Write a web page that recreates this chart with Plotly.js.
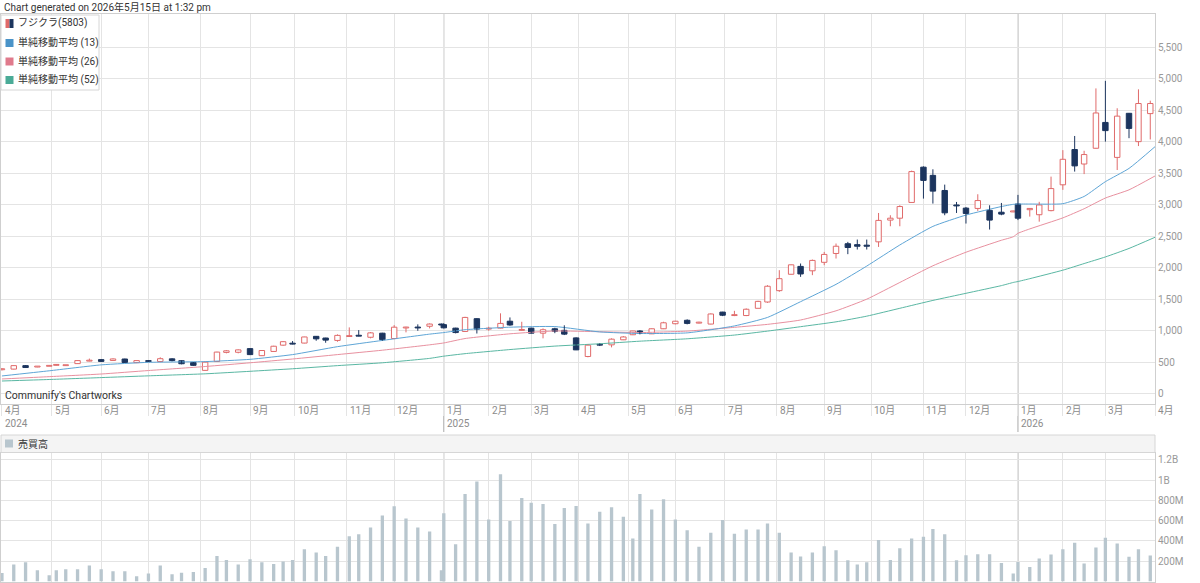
<!DOCTYPE html>
<html>
<head>
<meta charset="utf-8">
<script src="https://cdn.plot.ly/plotly-3.0.1.min.js"></script>
<style>
html,body{margin:0;padding:0;background:#fff;}
#chart{width:1200px;height:583px;}
</style>
</head>
<body>
<div id="chart"></div>
<script>
// ---------------- DATA ----------------
const holidays = ['2024-04-29','2024-05-03','2024-05-06','2024-07-15','2024-08-12','2024-09-16','2024-09-23','2024-10-14','2024-11-04','2024-12-31',
'2025-01-01','2025-01-02','2025-01-03','2025-01-13','2025-02-11','2025-02-24','2025-03-20','2025-04-29','2025-05-05','2025-05-06','2025-07-21','2025-08-11','2025-09-15','2025-09-23','2025-10-13','2025-11-03','2025-11-24','2025-12-31',
'2026-01-01','2026-01-02','2026-01-12','2026-02-11','2026-02-23','2026-03-20'];

const dates = [
'2024-04-01','2024-04-08','2024-04-15','2024-04-22','2024-04-30','2024-05-07','2024-05-13','2024-05-20','2024-05-27',
'2024-06-03','2024-06-10','2024-06-17','2024-06-24','2024-07-01','2024-07-08','2024-07-16','2024-07-22','2024-07-29',
'2024-08-05','2024-08-13','2024-08-19','2024-08-26','2024-09-02','2024-09-09','2024-09-17','2024-09-24','2024-09-30',
'2024-10-07','2024-10-15','2024-10-21','2024-10-28','2024-11-05','2024-11-11','2024-11-18','2024-11-25',
'2024-12-02','2024-12-09','2024-12-16','2024-12-23','2024-12-30',
'2025-01-06','2025-01-14','2025-01-20','2025-01-27','2025-02-03','2025-02-10','2025-02-17','2025-02-25',
'2025-03-03','2025-03-10','2025-03-17','2025-03-24','2025-03-31','2025-04-07','2025-04-14','2025-04-21','2025-04-28',
'2025-05-07','2025-05-12','2025-05-19','2025-05-26','2025-06-02','2025-06-09','2025-06-16','2025-06-23','2025-06-30',
'2025-07-07','2025-07-14','2025-07-22','2025-07-28','2025-08-04','2025-08-12','2025-08-18','2025-08-25',
'2025-09-01','2025-09-08','2025-09-16','2025-09-22','2025-09-29','2025-10-06','2025-10-14','2025-10-20','2025-10-27',
'2025-11-04','2025-11-10','2025-11-17','2025-11-25','2025-12-01','2025-12-08','2025-12-15','2025-12-22','2025-12-29',
'2026-01-05','2026-01-13','2026-01-19','2026-01-26','2026-02-02','2026-02-09','2026-02-16','2026-02-24',
'2026-03-02','2026-03-09','2026-03-16','2026-03-23','2026-03-30'];

const openP = [385,395,450,428,440,455,450,482,522,545,532,555,498,530,515,558,528,500,375,515,660,662,720,608,675,775,800,808,915,888,850,912,928,900,965,880,1048,1060,1075,1110,
1100,1045,992,1195,1030,1045,1155,1010,1045,965,1035,1010,890,595,785,780,860,940,1000,955,1035,1115,1170,1125,1110,1300,1245,1245,1360,1460,1640,1900,2025,1955,2090,2230,2385,2370,2362,2415,2760,2790,3040,3600,3470,3230,3000,2950,2945,2915,2885,2890,
3015,2925,2845,2910,3320,3880,3650,3900,4310,3755,4455,4005,4450];
const highP = [410,455,460,442,450,475,466,535,562,552,566,560,534,539,582,566,534,507,510,670,697,708,724,697,765,840,840,908,919,892,946,1057,1014,983,971,1093,1067,1105,1120,1118,
1120,1051,1225,1200,1067,1280,1215,1146,1051,1041,1051,1090,898,788,803,883,919,1003,1014,1041,1146,1162,1184,1146,1279,1304,1320,1358,1479,1727,1965,2055,2071,2134,2255,2388,2414,2451,2451,2873,2837,2995,3545,3613,3566,3323,3048,2968,3170,2995,3032,2910,
3160,2950,3050,3450,3870,4095,3860,4850,4970,4535,4460,4835,4655];
const lowP = [375,390,415,425,438,450,446,478,518,508,528,496,491,507,507,518,471,448,370,512,645,645,618,602,670,765,788,803,845,813,829,908,915,883,845,872,978,1003,1041,1090,
1040,962,987,960,1003,1041,1082,1003,962,883,965,935,697,582,761,740,856,935,946,951,1030,1105,1105,1120,1105,1236,1236,1236,1358,1447,1621,1897,1859,1886,2044,2150,2219,2293,2293,2334,2662,2662,3038,3101,3022,2837,2873,2705,2905,2610,2837,2885,
2760,2815,2735,2900,3240,3530,3490,3895,4005,3555,4060,3935,4040];
const closeP = [400,450,420,438,446,462,460,530,530,517,556,500,530,515,560,530,480,455,505,665,685,700,625,690,758,830,792,905,875,855,930,925,918,970,862,1060,1060,1048,1110,1095,
1050,975,1215,1030,1040,1120,1095,1020,965,1020,995,950,700,775,775,870,905,1000,960,1035,1130,1155,1120,1140,1270,1250,1255,1345,1470,1710,1830,2050,1905,2120,2215,2345,2325,2345,2345,2755,2790,2975,3530,3390,3220,2875,2985,2865,3070,2760,2855,2905,
2790,2945,3000,3260,3725,3620,3800,4460,4180,4410,4215,4610,4610];
// weekly volume, in millions of shares
const volumeM = [84,167,190,111,61,111,120,120,157,120,101,101,51,78,157,71,87,94,134,252,213,167,219,190,173,196,213,318,285,252,342,447,467,533,652,741,622,533,493,111,
672,368,863,985,612,1058,596,823,777,764,566,724,744,572,688,731,639,424,863,711,810,612,506,342,480,606,470,513,513,573,480,286,246,286,348,309,210,167,190,408,213,329,424,441,517,467,210,259,269,269,183,78,
193,144,226,266,319,381,177,335,431,374,243,319,256];

// moving averages
const maDates = ['2024-04-01','2024-04-30','2024-06-03','2024-07-01','2024-08-05','2024-09-02','2024-09-30','2024-10-28','2024-11-25','2024-12-23',
'2025-01-06','2025-01-20','2025-02-17','2025-03-17','2025-04-14','2025-05-12','2025-06-09','2025-07-07','2025-07-28','2025-08-18','2025-09-08','2025-09-29','2025-10-20','2025-11-10','2025-12-01','2025-12-22','2025-12-29',
'2026-01-05','2026-01-13','2026-02-02','2026-02-16','2026-03-02','2026-03-16','2026-04-01'];
const ma13 = [286,368,462,502,514,550,625,751,850,950,975,1020,1060,1070,985,960,970,1080,1215,1465,1740,2030,2365,2660,2840,2975,3010,3015,3015,3020,3135,3370,3580,3925];
const ma26 = [238,275,317,372,436,495,555,625,695,780,810,880,955,1000,988,975,998,1058,1105,1174,1320,1505,1770,2035,2250,2440,2495,2550,2620,2795,2940,3110,3240,3460];
const ma52 = [206,230,260,288,320,360,400,450,495,565,600,640,705,760,797,838,876,935,998,1068,1145,1235,1360,1485,1598,1720,1770,1785,1830,1965,2070,2175,2310,2487];

const monthTickDates = ['2024-04-01','2024-05-01','2024-06-03','2024-07-01','2024-08-01','2024-09-02','2024-10-01','2024-11-01','2024-12-02',
'2025-01-06','2025-02-03','2025-03-03','2025-04-01','2025-05-01','2025-06-02','2025-07-01','2025-08-01','2025-09-01','2025-10-01','2025-11-04','2025-12-01',
'2026-01-05','2026-02-02','2026-03-02','2026-04-01'];
const monthTickLabels = ['4月','5月','6月','7月','8月','9月','10月','11月','12月','1月','2月','3月','4月','5月','6月','7月','8月','9月','10月','11月','12月','1月','2月','3月','4月'];
const yearLabelDates = ['2024-04-01','2025-01-06','2026-01-05'];
const yearLabels = ['2024','2025','2026'];
const yearLineDates = ['2025-01-06','2026-01-05'];

const priceTicks = [0,500,1000,1500,2000,2500,3000,3500,4000,4500,5000,5500];
const volTickVals = [200,400,600,800,1000,1200];
const volTickText = ['200M','400M','600M','800M','1B','1.2B'];

const titleText = 'Chart generated on 2026年5月15日 at 1:32 pm';
const creditText = "Communify's Chartworks";
const legendNames = ['フジクラ(5803)','単純移動平均 (13)','単純移動平均 (26)','単純移動平均 (52)'];
const volumeName = '売買高';

// ---------------- TRADING-DAY AXIS ----------------
const hol = new Set(holidays);
const idxMap = {};
(function(){
  let t = Date.UTC(2024,3,1), k = 0; const end = Date.UTC(2026,4,1);
  while (t < end) {
    const d = new Date(t); const wd = d.getUTCDay(); const s = d.toISOString().slice(0,10);
    if (wd !== 0 && wd !== 6 && !hol.has(s)) { idxMap[s] = k; k++; }
    t += 86400000;
  }
})();
const X = s => idxMap[s];

// ---------------- STYLE ----------------
const FONT = 'Roboto, "Noto Sans CJK JP", sans-serif';
const UP = '#e06a6a', DOWN = '#1c355e';
const C13 = '#5ea5d6', C26 = '#e8909f', C52 = '#5ab7a3';
const L13 = '#4a93c8', L26 = '#e07a8c', L52 = '#4aab97';
const VOLC = '#b8c6ce';
const GRID = '#e4e4e4', FRAME = '#cfcfcf';
const H = 583, W = 1200;
const py = y => 1 - y / H, px = x => x / W;

// ---------------- TRACES ----------------
const upX=[],upBase=[],upH=[],dnX=[],dnBase=[],dnH=[];
const upWx=[],upWy=[],dnWx=[],dnWy=[];
dates.forEach((d,i)=>{
  const x = X(d), o = openP[i], c = closeP[i], h = highP[i], l = lowP[i];
  const top = Math.max(o,c), bot = Math.min(o,c), ht = Math.max(top-bot, 14);
  if (c >= o) {
    upX.push(x); upBase.push(bot); upH.push(ht);
    upWx.push(x,x,null,x,x,null); upWy.push(h,bot+ht,null,bot,l,null);
  } else {
    dnX.push(x); dnBase.push(bot); dnH.push(ht);
    dnWx.push(x,x,null); dnWy.push(h,l,null);
  }
});

const maX = maDates.map(X);
const traces = [
  {type:'bar', x:upX, y:upH, base:upBase, width:2.3, xaxis:'x', yaxis:'y',
   marker:{color:'#ffffff', line:{color:UP, width:1}}, hoverinfo:'skip'},
  {type:'bar', x:dnX, y:dnH, base:dnBase, width:2.3, xaxis:'x', yaxis:'y',
   marker:{color:DOWN, line:{color:DOWN, width:1}}, hoverinfo:'skip'},
  {type:'scatter', mode:'lines', x:maX, y:ma52, line:{color:C52, width:1, shape:'spline', smoothing:0.5}, xaxis:'x', yaxis:'y', hoverinfo:'skip'},
  {type:'scatter', mode:'lines', x:maX, y:ma26, line:{color:C26, width:1, shape:'spline', smoothing:0.5}, xaxis:'x', yaxis:'y', hoverinfo:'skip'},
  {type:'scatter', mode:'lines', x:maX, y:ma13, line:{color:C13, width:1, shape:'spline', smoothing:0.5}, xaxis:'x', yaxis:'y', hoverinfo:'skip'},
  {type:'scatter', mode:'lines', x:upWx, y:upWy, line:{color:UP, width:1}, connectgaps:false, xaxis:'x', yaxis:'y', hoverinfo:'skip'},
  {type:'scatter', mode:'lines', x:dnWx, y:dnWy, line:{color:DOWN, width:1}, connectgaps:false, xaxis:'x', yaxis:'y', hoverinfo:'skip'},
  {type:'bar', x:dates.map(X), y:volumeM, width:1.4, xaxis:'x2', yaxis:'y2',
   marker:{color:VOLC, line:{width:0}}, hoverinfo:'skip'}
];

// ---------------- LAYOUT ----------------
const monthIdx = monthTickDates.map(X);
const xRange = [-0.4, 488];
const shapes = [];
const annotations = [];

// year separator lines
yearLineDates.forEach(d=>{
  shapes.push({type:'line', xref:'x', yref:'paper', x0:X(d), x1:X(d), y0:py(432), y1:py(14), line:{color:'#a9a9a9', width:1}, layer:'between'});
  shapes.push({type:'line', xref:'x2', yref:'paper', x0:X(d), x1:X(d), y0:0, y1:py(452), line:{color:'#a9a9a9', width:1}, layer:'between'});
});

// legend box (main)
shapes.push({type:'rect', xref:'paper', yref:'paper', x0:px(1), x1:px(99), y0:py(90), y1:py(15), fillcolor:'#ffffff', line:{color:'#d6d6d6', width:1}, layer:'above'});
const legY = [23.5, 43, 61.5, 80];
shapes.push({type:'rect', xref:'paper', yref:'paper', x0:px(5.5), x1:px(9.5), y0:py(legY[0]+4.5), y1:py(legY[0]-4.5), fillcolor:UP, line:{width:0}, layer:'above'});
shapes.push({type:'rect', xref:'paper', yref:'paper', x0:px(9.5), x1:px(13.5), y0:py(legY[0]+4.5), y1:py(legY[0]-4.5), fillcolor:DOWN, line:{width:0}, layer:'above'});
[L13, L26, L52].forEach((c,k)=>{
  const yy = legY[k+1];
  shapes.push({type:'rect', xref:'paper', yref:'paper', x0:px(5.5), x1:px(13.5), y0:py(yy+4), y1:py(yy-4), fillcolor:c, line:{width:0}, layer:'above'});
});
legendNames.forEach((t,k)=>{
  annotations.push({xref:'paper', yref:'paper', x:px(16), y:py(legY[k]), xanchor:'left', yanchor:'middle', text:t, showarrow:false, font:{family:FONT, size:10, color:'#333'}});
});

// volume header bar
shapes.push({type:'rect', xref:'paper', yref:'paper', x0:px(1), x1:px(1155), y0:py(452.5), y1:py(435), fillcolor:'#f4f4f4', line:{color:'#d6d6d6', width:1}, layer:'above'});
shapes.push({type:'rect', xref:'paper', yref:'paper', x0:px(5), x1:px(13), y0:py(447.5), y1:py(439.5), fillcolor:VOLC, line:{width:0}, layer:'above'});
annotations.push({xref:'paper', yref:'paper', x:px(15.5), y:py(443.5), xanchor:'left', yanchor:'middle', text:volumeName, showarrow:false, font:{family:FONT, size:10, color:'#333'}});

// title & credit
annotations.push({xref:'paper', yref:'paper', x:px(2), y:py(7), xanchor:'left', yanchor:'middle', text:titleText, showarrow:false, font:{family:FONT, size:10, color:'#333'}});
annotations.push({xref:'paper', yref:'paper', x:px(3), y:py(395.5), xanchor:'left', yanchor:'middle', text:creditText, showarrow:false, font:{family:FONT, size:10.5, color:'#333'}});

// month / year labels
monthTickDates.forEach((d,k)=>{
  annotations.push({xref:'x', yref:'paper', x:X(d), y:py(410.5), xanchor:'left', yanchor:'middle', xshift:1, text:monthTickLabels[k], showarrow:false, font:{family:FONT, size:10, color:'#8c8c8c'}});
});
yearLabelDates.forEach((d,k)=>{
  annotations.push({xref:'x', yref:'paper', x:X(d), y:py(423.5), xanchor:'left', yanchor:'middle', xshift:1, text:yearLabels[k], showarrow:false, font:{family:FONT, size:10, color:'#8c8c8c'}});
});

const layout = {
  width:W, height:H, margin:{l:0, r:0, t:0, b:0},
  paper_bgcolor:'#ffffff', plot_bgcolor:'#ffffff',
  showlegend:false, barmode:'overlay', hovermode:false,
  font:{family:FONT, size:10, color:'#333'},
  xaxis:{domain:[px(1), px(1155)], range:xRange, tickmode:'array', tickvals:monthIdx, showticklabels:false,
         showgrid:true, gridcolor:GRID, gridwidth:1, ticks:'outside', ticklen:11, tickcolor:GRID, tickwidth:1,
         showline:true, mirror:true, linecolor:FRAME, linewidth:1, zeroline:false, anchor:'y', fixedrange:true},
  yaxis:{domain:[py(404), py(14)], range:[-159, 6031], side:'right', tickmode:'array', tickvals:priceTicks, tickformat:',d',
         showgrid:true, gridcolor:GRID, gridwidth:1, ticks:'', showline:true, mirror:true, linecolor:FRAME, linewidth:1,
         zeroline:false, tickfont:{family:FONT, size:10, color:'#999'}, anchor:'x', fixedrange:true},
  xaxis2:{domain:[px(1), px(1155)], range:xRange, tickmode:'array', tickvals:monthIdx, showticklabels:false,
          showgrid:true, gridcolor:GRID, gridwidth:1, ticks:'', showline:true, mirror:true, linecolor:FRAME, linewidth:1,
          zeroline:false, anchor:'y2', fixedrange:true},
  yaxis2:{domain:[py(581.5), py(452.5)], range:[0, 1272], side:'right', tickmode:'array', tickvals:volTickVals, ticktext:volTickText,
          showgrid:true, gridcolor:GRID, gridwidth:1, ticks:'', showline:true, mirror:true, linecolor:FRAME, linewidth:1,
          zeroline:false, tickfont:{family:FONT, size:10, color:'#999'}, anchor:'x2', fixedrange:true},
  shapes:shapes, annotations:annotations
};

Plotly.newPlot('chart', traces, layout, {staticPlot:true, displayModeBar:false});
</script>
</body>
</html>
